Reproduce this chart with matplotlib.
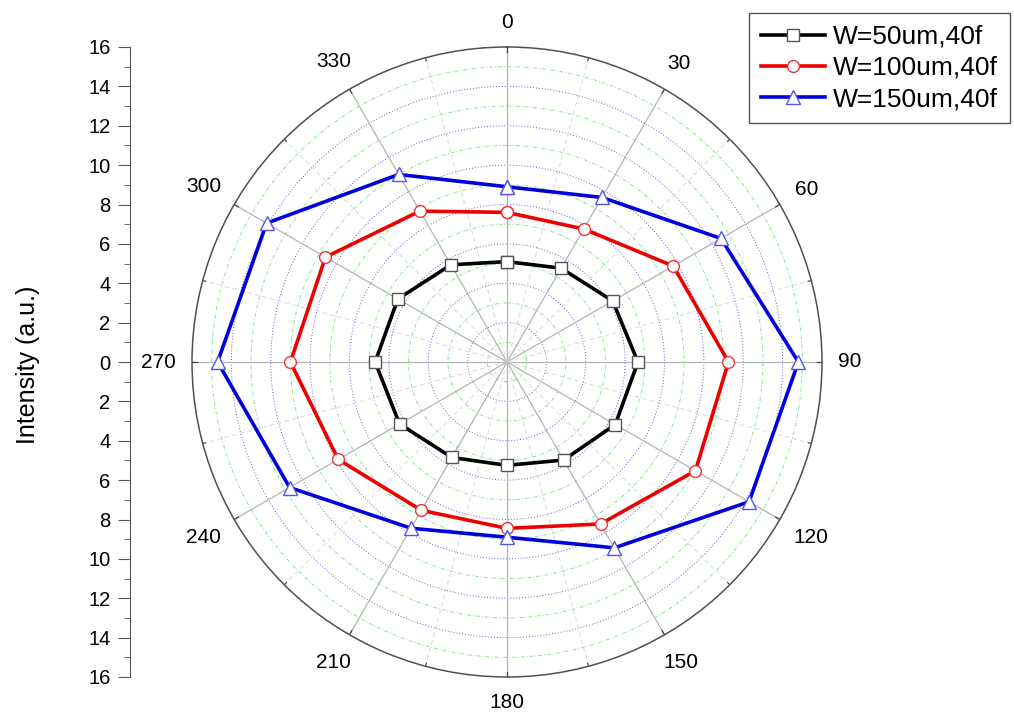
import numpy as np
import matplotlib
matplotlib.use("Agg")
import matplotlib.pyplot as plt
from matplotlib.ticker import MultipleLocator, FuncFormatter

plt.rcParams['font.family'] = ['Liberation Sans', 'DejaVu Sans']

# Measurement angles (degrees, clockwise from top) and intensities
angles_deg = [0, 30, 60, 90, 120, 150, 180, 210, 240, 270, 300, 330]
w50 = [5.1, 5.5, 6.2, 6.65, 6.35, 5.75, 5.25, 5.6, 6.3, 6.7, 6.4, 5.7]
w100 = [7.6, 7.8, 9.75, 11.25, 11.05, 9.5, 8.45, 8.7, 9.9, 11.0, 10.65, 8.85]
w150 = [8.9, 9.65, 12.55, 14.8, 14.2, 10.9, 8.9, 9.75, 12.75, 14.7, 14.1, 11.0]
labels = ['W=50um,40f', 'W=100um,40f', 'W=150um,40f']
r_max = 16

W, H = 1014, 715
fig = plt.figure(figsize=(W / 100, H / 100), dpi=100)

cx, cy, rad = 507, 362, 315
ax = fig.add_axes([(cx - rad) / W, (H - cy - rad) / H, 2 * rad / W, 2 * rad / H],
                  projection='polar')
ax.set_theta_zero_location('N')
ax.set_theta_direction(-1)
ax.set_ylim(0, r_max)
ax.grid(False)
ax.set_xticks([])
ax.set_yticks([])
ax.spines['polar'].set_color('#505050')
ax.spines['polar'].set_linewidth(1.1)

full = np.linspace(0, 2 * np.pi, 721)
# concentric grid: even radii dotted blue, odd radii dash-dot green
for r in range(1, r_max):
    if r % 2 == 0:
        ax.plot(full, np.full_like(full, r), color='#6060d0', lw=0.7,
                ls=(0, (1, 2)), zorder=1)
    else:
        ax.plot(full, np.full_like(full, r), color='#8ce48c', lw=0.7,
                ls=(0, (4, 2, 1, 2)), zorder=1)
# radial grid: solid every 30 deg, dashed at 15 deg offsets
for a in range(0, 360, 15):
    t = np.deg2rad(a)
    if a % 30 == 0:
        ax.plot([t, t], [0, r_max], color='#b4b4b4', lw=0.9, zorder=1)
        ax.plot([t, t], [r_max * 0.985, r_max], color='#404040', lw=0.9, zorder=2)
    else:
        ax.plot([t, t], [0, r_max], color='#dddddd', lw=0.8,
                ls=(0, (4, 3)), zorder=1)
        ax.plot([t, t], [r_max * 0.99, r_max], color='#404040', lw=0.8, zorder=2)

# angle labels
for a in angles_deg:
    t = np.deg2rad(a)
    txt = str(a)
    rp = 332 + 5.5 * len(txt) * abs(np.sin(t)) + 8 * abs(np.cos(t))
    ax.text(t, r_max * rp / rad, txt, ha='center', va='center',
            fontsize=15, clip_on=False)

th = np.deg2rad(angles_deg + [angles_deg[0]])
styles = [
    dict(color='black', marker='s', mec='#555555', ms=8),
    dict(color='#ee0000', marker='o', mec='#ee3333', ms=8.5),
    dict(color='#0000dd', marker='^', mec='#5555ee', ms=10),
]
handles = []
for vals, lab, st in zip([w50, w100, w150], labels, styles):
    h, = ax.plot(th, vals + [vals[0]], color=st['color'], lw=2.6,
                 marker=st['marker'], ms=st['ms'], mfc='white', mec=st['mec'],
                 mew=1.0, label=lab, zorder=5, clip_on=False)
    handles.append(h)

leg = fig.legend(handles=handles, loc='upper right',
                 bbox_to_anchor=(1010 / W, 1 - 13 / H), fontsize=19,
                 frameon=True, fancybox=False, framealpha=1,
                 edgecolor='#555555', handlelength=2.45, borderpad=0.45,
                 labelspacing=0.27, handletextpad=0.3, borderaxespad=0)
leg.get_frame().set_linewidth(1.0)

# linear intensity scale on the left
axl = fig.add_axes([130 / W, (H - cy - rad) / H, 0.001, 2 * rad / H])
axl.set_ylim(-r_max, r_max)
axl.patch.set_visible(False)
for s in ['top', 'right', 'bottom']:
    axl.spines[s].set_visible(False)
axl.spines['left'].set_color('#555555')
axl.set_xticks([])
axl.yaxis.set_major_locator(MultipleLocator(2))
axl.yaxis.set_minor_locator(MultipleLocator(1))
axl.yaxis.set_major_formatter(FuncFormatter(lambda v, p: f"{abs(int(round(v)))}"))
axl.tick_params(axis='y', which='major', length=9, color='#555555',
                labelsize=14.5, pad=5)
axl.tick_params(axis='y', which='minor', length=4.5, color='#555555')
fig.text(28 / W, (H - 365) / H, 'Intensity (a.u.)', rotation=90,
         ha='center', va='center', fontsize=18)

fig.savefig('out.png', dpi=100)
